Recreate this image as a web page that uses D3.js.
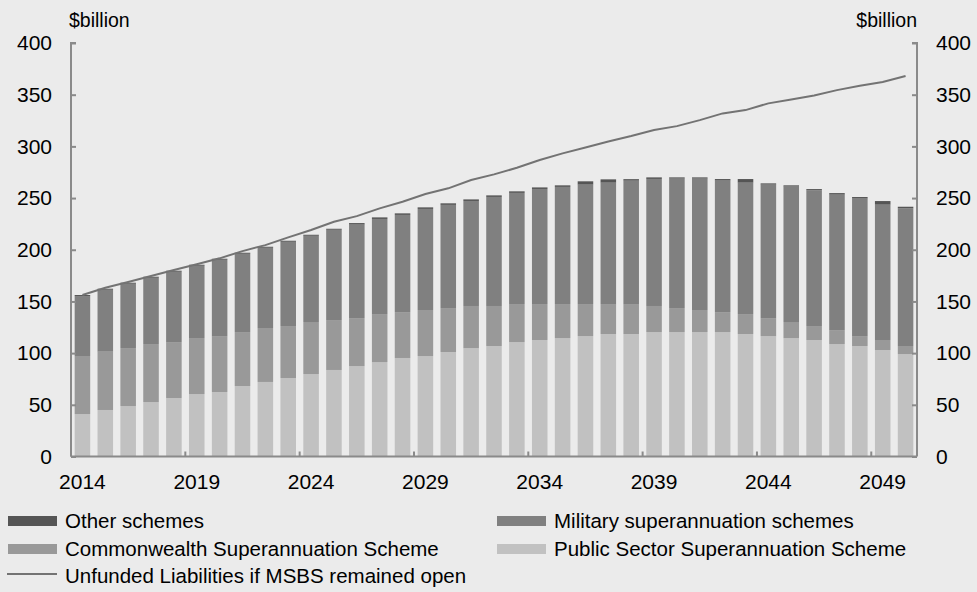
<!DOCTYPE html>
<html><head><meta charset="utf-8">
<script src="https://cdn.jsdelivr.net/npm/d3@7"></script>
<style>
html,body{margin:0;padding:0;background:#ebebeb;}
svg{display:block;font-family:"Liberation Sans",Arial,sans-serif;}
</style></head>
<body>
<svg id="chart" width="977" height="592"></svg>
<script>
const years = d3.range(2014, 2051);
const tickYears = [2014, 2019, 2024, 2029, 2034, 2039, 2044, 2049];
const yTicks = [0, 50, 100, 150, 200, 250, 300, 350, 400];

const pss = [41.1,45.0,48.8,52.7,56.6,60.4,62.4,68.2,72.1,75.9,79.8,83.7,87.5,91.4,95.3,97.2,101.1,104.9,106.9,110.7,112.7,114.6,116.5,118.5,118.5,120.4,120.4,120.4,120.4,118.5,116.5,114.6,112.7,108.8,106.9,103.0,99.1];
const css = [56.1,56.4,56.1,56.1,54.1,54.2,54.1,52.2,52.2,50.3,50.3,48.3,46.4,46.4,44.4,44.5,42.5,40.7,38.7,36.8,34.8,32.9,31.0,29.0,29.0,25.2,23.2,21.3,19.3,19.3,17.4,15.5,13.5,13.5,9.6,9.7,7.8];
const military = [58.0,59.9,62.2,64.1,68.0,69.9,73.8,75.7,77.6,81.5,83.4,87.3,90.4,92.0,94.0,97.8,99.8,101.6,105.5,107.5,111.3,113.3,115.5,117.4,119.3,122.9,125.2,127.1,127.2,127.1,129.1,131.0,131.3,131.0,133.0,130.9,133.2];
const other = [1.0,1.0,1.0,1.0,1.0,1.0,1.0,1.0,1.0,1.0,1.0,1.0,1.5,1.5,1.5,1.5,1.5,1.5,1.5,1.5,1.5,1.5,3.2,3.2,1.5,1.5,1.2,1.2,1.5,3.5,1.2,1.2,1.2,1.5,1.5,3.5,1.5];
const openLiab = [156.2,163.3,168.8,174.6,180.4,185.9,191.7,198.7,204.5,212.0,219.1,227.1,232.5,240.0,246.4,253.9,259.4,267.4,272.9,279.3,286.8,293.2,299.0,304.8,310.0,315.8,319.6,325.4,331.9,335.1,341.6,345.4,349.3,354.4,358.6,362.2,368.0];

const seriesKeys = ["pss","css","military","other"];
const seriesNames = {
  other: "Other schemes",
  military: "Military superannuation schemes",
  css: "Commonwealth Superannuation Scheme",
  pss: "Public Sector Superannuation Scheme"
};
const colors = {pss:"#c1c1c1", css:"#999999", military:"#808080", other:"#555555"};
const lineName = "Unfunded Liabilities if MSBS remained open";
const lineColor = "#737373";
const axisColor = "#8a8a8a";

const table = years.map((y,i)=>({year:y, pss:pss[i], css:css[i], military:military[i], other:other[i]}));

const svg = d3.select("#chart");
const L = 71, R = 917, T = 43, B = 456.5;

const x = d3.scaleBand().domain(years).range([L, R]).paddingInner(0.32).paddingOuter(0.16);
const y = d3.scaleLinear().domain([0, 400]).range([B, T]);

const stack = d3.stack().keys(seriesKeys)(table);

svg.append("g").selectAll("g").data(stack).join("g")
  .attr("fill", d => colors[d.key])
  .selectAll("rect").data(d => d).join("rect")
  .attr("x", d => x(d.data.year))
  .attr("width", x.bandwidth())
  .attr("y", d => y(d[1]))
  .attr("height", d => y(d[0]) - y(d[1]));

const line = d3.line().x((d,i)=>x(years[i]) + x.bandwidth()/2).y(d=>y(d));
svg.append("path").datum(openLiab)
  .attr("d", line).attr("fill","none").attr("stroke", lineColor).attr("stroke-width", 2);

// Axes
const fs = 21;
const lfs = 20.5;
const leftAxis = d3.axisRight(y).tickValues(yTicks).tickSize(5).tickFormat("");
const gL = svg.append("g").attr("transform", `translate(${L},0)`).call(leftAxis);
const rightAxis = d3.axisLeft(y).tickValues(yTicks).tickSize(5).tickFormat("");
const gR = svg.append("g").attr("transform", `translate(${R},0)`).call(rightAxis);
const bottomAxis = d3.axisTop(x).tickValues(tickYears).tickSize(5).tickFormat("");
const gB = svg.append("g").attr("transform", `translate(0,${B})`).call(bottomAxis);
gB.selectAll(".tick").attr("transform", d => `translate(${x(d) - x.step()*0.16},0)`);
[gL,gR,gB].forEach(g=>{
  g.select(".domain").attr("stroke", axisColor).attr("stroke-width", 2);
  g.selectAll(".tick line").attr("stroke", axisColor).attr("stroke-width", 2);
});
gB.select(".domain").attr("d", `M${L},0H${R}`);
gL.select(".domain").attr("d", `M5,${T}H0V${B}`);
gR.select(".domain").attr("d", `M-5,${T}H0V${B}`);

// Tick labels
svg.append("g").selectAll("text").data(yTicks).join("text")
  .attr("x", 52).attr("y", d => y(d)).attr("dy","0.35em")
  .attr("text-anchor","end").attr("font-size", fs).attr("fill","#000").text(d=>d);
svg.append("g").selectAll("text").data(yTicks).join("text")
  .attr("x", 936).attr("y", d => y(d)).attr("dy","0.35em")
  .attr("text-anchor","start").attr("font-size", fs).attr("fill","#000").text(d=>d);
svg.append("g").selectAll("text").data(tickYears).join("text")
  .attr("x", d => x(d) + x.bandwidth()/2).attr("y", 482).attr("dy","0.35em")
  .attr("text-anchor","middle").attr("font-size", fs).attr("fill","#000").text(d=>d);

svg.append("text").attr("x", 69).attr("y", 20).attr("dy","0.35em")
  .attr("font-size", 19.5).text("$billion");
svg.append("text").attr("x", 917).attr("y", 20).attr("dy","0.35em").attr("text-anchor","end")
  .attr("font-size", 19.5).text("$billion");

// Legend
const legendItems = [
  {key:"other", col:0, row:0},
  {key:"military", col:1, row:0},
  {key:"css", col:0, row:1},
  {key:"pss", col:1, row:1}
];
const colX = [8, 497], rowY = [521, 549, 576];
const lg = svg.append("g");
legendItems.forEach(it=>{
  lg.append("rect").attr("x", colX[it.col]).attr("y", rowY[it.row]-5).attr("width", 49).attr("height", 10)
    .attr("fill", colors[it.key]);
  lg.append("text").attr("x", colX[it.col]+57).attr("y", rowY[it.row]).attr("dy","0.35em")
    .attr("font-size", lfs).text(seriesNames[it.key]);
});
lg.append("line").attr("x1", 7).attr("x2", 57).attr("y1", rowY[2]-2).attr("y2", rowY[2]-2)
  .attr("stroke", lineColor).attr("stroke-width", 2);
lg.append("text").attr("x", 65).attr("y", rowY[2]).attr("dy","0.35em").attr("font-size", lfs).text(lineName);
</script>
</body></html>
